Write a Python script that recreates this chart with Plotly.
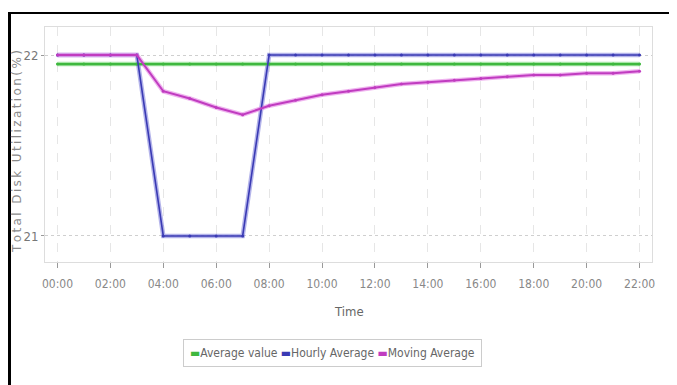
import plotly.graph_objects as go

hours = list(range(23))
tick_vals = list(range(0, 23, 2))
tick_labels = [f"{h:02d}:00" for h in tick_vals]

average_value = [21.95] * 23
hourly_average = [22, 22, 22, 22, 21, 21, 21, 21, 22, 22, 22, 22, 22, 22, 22, 22, 22, 22, 22, 22, 22, 22, 22]
moving_average = [22, 22, 22, 22, 21.80, 21.76, 21.71, 21.67, 21.72, 21.75, 21.78, 21.80, 21.82, 21.84,
                  21.85, 21.86, 21.87, 21.88, 21.89, 21.89, 21.90, 21.90, 21.91]

series = [
    ("Average value", average_value, "#3fb83f", "rgba(120,215,120,0.65)", 2.2),
    ("Hourly Average", hourly_average, "#3a3ab4", "rgba(130,130,220,0.6)", 1.6),
    ("Moving Average", moving_average, "#c03cc0", "rgba(230,140,230,0.65)", 2.0),
]

COND = "DejaVu Sans Condensed, Liberation Sans Narrow, Roboto Condensed, sans-serif"

fig = go.Figure()
for name, vals, col, halo, w in series:
    fig.add_trace(go.Scatter(x=hours, y=vals, mode="lines", line=dict(color=halo, width=4.5),
                             showlegend=False, hoverinfo="skip"))
for name, vals, col, halo, w in series:
    fig.add_trace(go.Scatter(x=hours, y=vals, mode="lines+markers", name=name, showlegend=False,
                             line=dict(color=col, width=w),
                             marker=dict(size=3, color=col, line=dict(width=0))))

# page body has an 8px margin; figure coords = screen coords - 8
W, H = 669, 377
L, R, T, B = 37, 25, 19, 123
pw, ph = W - L - R, H - T - B

def px(x):
    return (x - L) / pw

def py(y):
    return (H - B - y) / ph

fig.add_shape(type="line", xref="paper", yref="paper", x0=px(0), x1=px(W + 5), y0=py(5), y1=py(5),
              line=dict(color="black", width=2))
fig.add_shape(type="line", xref="paper", yref="paper", x0=px(1.5), x1=px(1.5), y0=py(4), y1=py(H + 5),
              line=dict(color="black", width=3))

legend_html = ("<span style='color:#3fb83f'>▬</span>Average value "
               "<span style='color:#3a3ab4'>▬</span>Hourly Average "
               "<span style='color:#c03cc0'>▬</span>Moving Average")

sp = "\u2009"
ytitle = sp.join(list("Total Disk Utilization(%)"))

fig.update_layout(
    width=W, height=H,
    margin=dict(l=L, r=R, t=T, b=B, autoexpand=False),
    paper_bgcolor="white", plot_bgcolor="white",
    font=dict(family=COND, color="#777777", size=12),
    showlegend=False,
    annotations=[
        dict(text=legend_html, xref="paper", yref="paper", x=px(324), y=py(345),
             xanchor="center", yanchor="middle", showarrow=False,
             font=dict(family=COND, size=12, color="#666666"),
             bordercolor="#cccccc", borderwidth=1, borderpad=6, bgcolor="white"),
        dict(text="Time", xref="paper", yref="paper", x=0.5, y=py(303),
             xanchor="center", yanchor="middle", showarrow=False,
             font=dict(family=COND, size=13, color="#666666")),
        dict(text=ytitle, xref="paper", yref="paper", x=px(9), y=py(144), textangle=-90,
             xanchor="center", yanchor="middle", showarrow=False,
             font=dict(family="DejaVu Sans, sans-serif", size=12, color="#8a8a8a")),
    ],
    xaxis=dict(range=[-0.47, 22.47], tickmode="array", tickvals=tick_vals, ticktext=tick_labels,
               showgrid=True, gridcolor="#e6e6e6", griddash="dash", gridwidth=1,
               ticks="outside", ticklen=5, tickcolor="#999999", ticklabelstandoff=6,
               showline=True, linecolor="#dddddd", mirror=True, zeroline=False, automargin=False,
               tickfont=dict(family=COND, size=12, color="#888888")),
    yaxis=dict(range=[20.856, 22.155], tickmode="array", tickvals=[21, 22], ticktext=["21", "22"],
               showgrid=True, gridcolor="#cfcfcf", griddash="dot", gridwidth=1,
               ticks="outside", ticklen=3, tickcolor="#999999",
               showline=True, linecolor="#dddddd", mirror=True, zeroline=False, automargin=False,
               tickfont=dict(family=COND, size=13, color="#777777")),
)

fig.write_html("out.html")
